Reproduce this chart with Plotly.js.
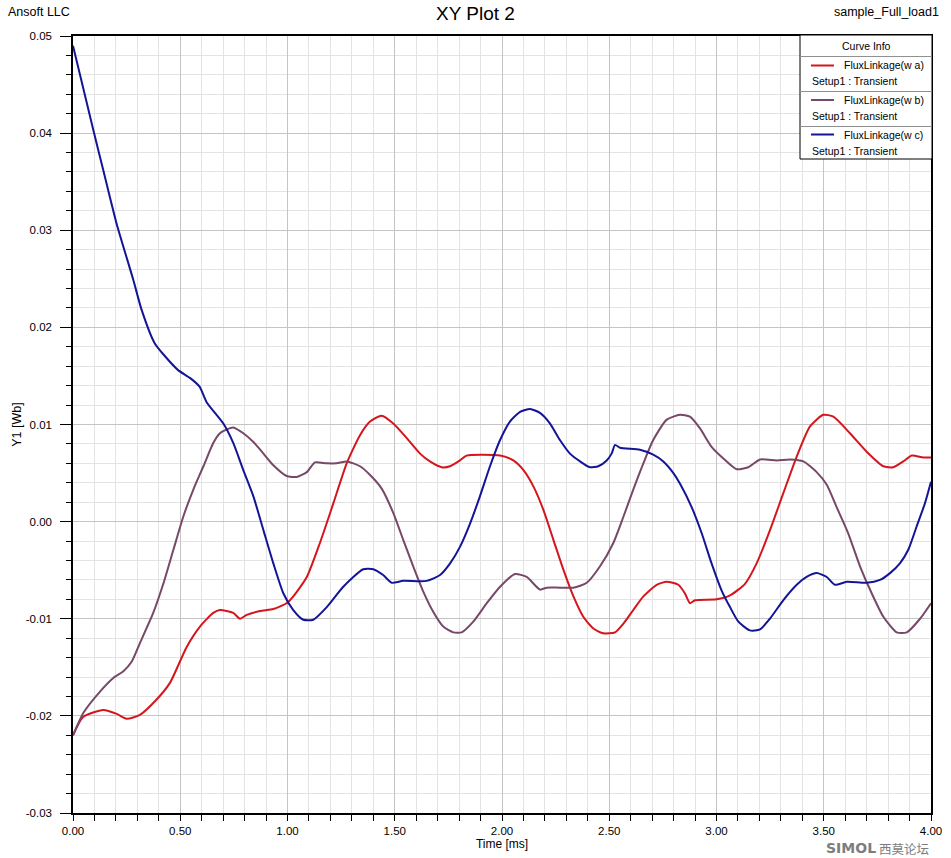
<!DOCTYPE html>
<html>
<head>
<meta charset="utf-8">
<script src="https://cdn.plot.ly/plotly-3.0.1.min.js"></script>
<style>html,body{margin:0;padding:0;background:#fff}#chart{width:951px;height:858px}</style>
</head>
<body>
<div id="chart"></div>
<script>
// ---- data (time in ms, flux linkage in Wb) ----
const timeWa = [0, 0.048, 0.141, 0.204, 0.250, 0.312, 0.382, 0.452, 0.530, 0.592, 0.654, 0.685, 0.747, 0.779, 0.810, 0.872, 0.934, 0.996, 1.027, 1.090, 1.151, 1.214, 1.276, 1.338, 1.385, 1.439, 1.493, 1.556, 1.618, 1.664, 1.719, 1.758, 1.804, 1.835, 1.991, 2.053, 2.100, 2.147, 2.193, 2.240, 2.287, 2.333, 2.379, 2.426, 2.472, 2.527, 2.566, 2.612, 2.659, 2.721, 2.768, 2.822, 2.853, 2.876, 2.900, 3.001, 3.063, 3.133, 3.187, 3.249, 3.311, 3.374, 3.436, 3.498, 3.545, 3.622, 3.700, 3.778, 3.824, 3.871, 3.910, 3.964, 4.0];
const fluxWa = [-0.0220, -0.0201, -0.0194, -0.0198, -0.0203, -0.0199, -0.0185, -0.0166, -0.0129, -0.0108, -0.0094, -0.0091, -0.0094, -0.0100, -0.0096, -0.0092, -0.0090, -0.0084, -0.0077, -0.0057, -0.0022, 0.0019, 0.0060, 0.0089, 0.0103, 0.0109, 0.0101, 0.0086, 0.0070, 0.0062, 0.0056, 0.0057, 0.0063, 0.0068, 0.0068, 0.0063, 0.0053, 0.0036, 0.0012, -0.0019, -0.0050, -0.0077, -0.0098, -0.0110, -0.0115, -0.0114, -0.0105, -0.0091, -0.0077, -0.0065, -0.0062, -0.0065, -0.0074, -0.0084, -0.0081, -0.0080, -0.0076, -0.0064, -0.0043, -0.0009, 0.0029, 0.0067, 0.0098, 0.0110, 0.0108, 0.0091, 0.0072, 0.0057, 0.0056, 0.0062, 0.0068, 0.0066, 0.0066];

const timeWb = [0, 0.048, 0.126, 0.188, 0.235, 0.274, 0.312, 0.374, 0.421, 0.468, 0.514, 0.561, 0.608, 0.654, 0.685, 0.717, 0.747, 0.794, 0.841, 0.888, 0.934, 0.996, 1.043, 1.090, 1.128, 1.183, 1.229, 1.276, 1.338, 1.385, 1.439, 1.493, 1.540, 1.586, 1.633, 1.680, 1.726, 1.773, 1.812, 1.866, 1.929, 1.991, 2.061, 2.115, 2.177, 2.208, 2.270, 2.333, 2.395, 2.457, 2.519, 2.566, 2.612, 2.659, 2.705, 2.768, 2.830, 2.876, 2.923, 2.977, 3.032, 3.094, 3.148, 3.203, 3.281, 3.343, 3.405, 3.467, 3.514, 3.560, 3.614, 3.669, 3.724, 3.778, 3.840, 3.887, 3.949, 4.0];
const fluxWb = [-0.0220, -0.0197, -0.0175, -0.0161, -0.0154, -0.0144, -0.0125, -0.0094, -0.0064, -0.0029, 0.0005, 0.0033, 0.0057, 0.0081, 0.0091, 0.0095, 0.0097, 0.0091, 0.0082, 0.0070, 0.0058, 0.0047, 0.0046, 0.0051, 0.0061, 0.0060, 0.0060, 0.0062, 0.0057, 0.0048, 0.0034, 0.0009, -0.0019, -0.0046, -0.0072, -0.0093, -0.0108, -0.0114, -0.0114, -0.0103, -0.0084, -0.0067, -0.0054, -0.0057, -0.0070, -0.0068, -0.0068, -0.0068, -0.0063, -0.0046, -0.0022, 0.0005, 0.0033, 0.0060, 0.0084, 0.0105, 0.0110, 0.0108, 0.0096, 0.0077, 0.0065, 0.0054, 0.0056, 0.0064, 0.0063, 0.0064, 0.0062, 0.0051, 0.0038, 0.0015, -0.0012, -0.0046, -0.0074, -0.0098, -0.0114, -0.0114, -0.0100, -0.0084];

const timeWc = [0, 0.095, 0.141, 0.203, 0.281, 0.320, 0.380, 0.430, 0.490, 0.545, 0.590, 0.623, 0.701, 0.747, 0.794, 0.841, 0.888, 0.934, 0.981, 1.027, 1.074, 1.120, 1.183, 1.260, 1.353, 1.400, 1.446, 1.486, 1.540, 1.649, 1.711, 1.758, 1.804, 1.851, 1.897, 1.944, 1.991, 2.037, 2.084, 2.131, 2.177, 2.224, 2.270, 2.317, 2.364, 2.410, 2.449, 2.488, 2.511, 2.527, 2.550, 2.643, 2.705, 2.752, 2.799, 2.830, 2.884, 2.931, 2.977, 3.024, 3.063, 3.102, 3.156, 3.203, 3.249, 3.311, 3.374, 3.420, 3.467, 3.514, 3.552, 3.607, 3.700, 3.762, 3.809, 3.855, 3.894, 3.933, 3.972, 4.0];
const fluxWc = [0.0490, 0.0403, 0.0362, 0.0307, 0.0249, 0.0218, 0.0184, 0.0170, 0.0156, 0.0148, 0.0139, 0.0123, 0.0101, 0.0081, 0.0053, 0.0026, -0.0009, -0.0043, -0.0074, -0.0091, -0.0101, -0.0101, -0.0088, -0.0067, -0.0049, -0.0049, -0.0055, -0.0063, -0.0061, -0.0061, -0.0055, -0.0043, -0.0026, -0.0002, 0.0026, 0.0057, 0.0084, 0.0103, 0.0113, 0.0116, 0.0112, 0.0101, 0.0084, 0.0070, 0.0062, 0.0056, 0.0057, 0.0063, 0.0070, 0.0079, 0.0076, 0.0074, 0.0069, 0.0062, 0.0050, 0.0039, 0.0015, -0.0012, -0.0043, -0.0071, -0.0088, -0.0103, -0.0112, -0.0111, -0.0100, -0.0081, -0.0065, -0.0057, -0.0053, -0.0057, -0.0065, -0.0062, -0.0063, -0.0060, -0.0053, -0.0043, -0.0029, -0.0005, 0.0019, 0.0041];

const seriesNames = ['FluxLinkage(w a)', 'FluxLinkage(w b)', 'FluxLinkage(w c)'];
const seriesSetup = ['Setup1 : Transient', 'Setup1 : Transient', 'Setup1 : Transient'];

const xTickVals = [0, 0.5, 1, 1.5, 2, 2.5, 3, 3.5, 4];
const xTickText = ['0.00', '0.50', '1.00', '1.50', '2.00', '2.50', '3.00', '3.50', '4.00'];
const yTickVals = [-0.03, -0.02, -0.01, 0, 0.01, 0.02, 0.03, 0.04, 0.05];
const yTickText = ['-0.03', '-0.02', '-0.01', '0.00', '0.01', '0.02', '0.03', '0.04', '0.05'];

// ---- styling ----
const colors = ['#d4161c', '#774868', '#141496'];
const FONT = 'Liberation Sans, Arial, sans-serif';
const W = 951, H = 858;
const M = {l: 73, r: 20, t: 36, b: 45};
const plotW = W - M.l - M.r, plotH = H - M.t - M.b;
const px = x => (x - M.l) / plotW;
const py = y => (H - M.b - y) / plotH;

const times = [timeWa, timeWb, timeWc];
const fluxes = [fluxWa, fluxWb, fluxWc];

const traces = fluxes.map((f, i) => ({
  type: 'scatter', mode: 'lines', x: times[i], y: f, name: seriesNames[i],
  line: {color: colors[i], width: 2, shape: 'spline', smoothing: 0.6},
  showlegend: false, hoverinfo: 'x+y+name'
}));

// custom "Curve Info" legend box
const box = {x0: 800, x1: 932, y0: 35, y1: 159};
const shapes = [
  {type: 'rect', xref: 'paper', yref: 'paper', x0: px(box.x0), x1: px(box.x1), y0: py(box.y1), y1: py(box.y0),
   fillcolor: '#ffffff', line: {color: '#000000', width: 1}, layer: 'above'}
];
[56.5, 91.5, 126.5].forEach(yy => shapes.push({type: 'line', xref: 'paper', yref: 'paper',
  x0: px(box.x0), x1: px(box.x1), y0: py(yy), y1: py(yy), line: {color: '#909090', width: 1}, layer: 'above'}));

const annotations = [
  {text: 'Ansoft LLC', xref: 'paper', yref: 'paper', x: px(6), y: py(12), xanchor: 'left', yanchor: 'middle', showarrow: false,
   font: {family: FONT, size: 12.5, color: '#000'}},
  {text: 'sample_Full_load1', xref: 'paper', yref: 'paper', x: px(941), y: py(12), xanchor: 'right', yanchor: 'middle', showarrow: false,
   font: {family: FONT, size: 12.5, color: '#000'}},
  {text: 'Curve Info', xref: 'paper', yref: 'paper', x: px((box.x0 + box.x1) / 2), y: py(46), xanchor: 'center', yanchor: 'middle', showarrow: false,
   font: {family: FONT, size: 10.5, color: '#000'}},
  {text: 'SIMOL', xref: 'paper', yref: 'paper', x: px(877), y: py(848), xanchor: 'right', yanchor: 'middle', showarrow: false,
   font: {family: 'DejaVu Sans, sans-serif', size: 14, color: '#7d7d7d', weight: 'bold'}, borderpad: 0},
  {text: '西莫论坛', xref: 'paper', yref: 'paper', x: px(878), y: py(848), xanchor: 'left', yanchor: 'middle', showarrow: false,
   font: {family: 'Noto Sans CJK SC, sans-serif', size: 12.5, color: '#7d7d7d'}, borderpad: 0}
];
seriesNames.forEach((nm, i) => {
  const yTop = 65.5 + i * 34.5;
  shapes.push({type: 'line', xref: 'paper', yref: 'paper', x0: px(811), x1: px(834), y0: py(yTop), y1: py(yTop),
    line: {color: colors[i], width: 2}, layer: 'above'});
  annotations.push({text: nm, xref: 'paper', yref: 'paper', x: px(842), y: py(yTop), xanchor: 'left', yanchor: 'middle', showarrow: false,
    font: {family: FONT, size: 10.5, color: '#000'}});
  annotations.push({text: seriesSetup[i], xref: 'paper', yref: 'paper', x: px(810), y: py(yTop + 16), xanchor: 'left', yanchor: 'middle', showarrow: false,
    font: {family: FONT, size: 10.5, color: '#000'}});
});

const axisCommon = {
  showline: true, linecolor: '#000', linewidth: 1.5, mirror: true, zeroline: false,
  ticks: 'outside', tickcolor: '#000', tickwidth: 1, tickmode: 'array',
  showgrid: true, gridcolor: '#c4c4c4', gridwidth: 1,
  tickfont: {family: FONT, size: 11.5, color: '#000'}
};

const layout = {
  width: W, height: H, margin: M, paper_bgcolor: '#fff', plot_bgcolor: '#fff',
  font: {family: FONT, color: '#000'},
  title: {text: 'XY Plot 2', x: 0.5, xref: 'container', xanchor: 'center', y: 1 - 13 / H, yref: 'container', yanchor: 'middle',
          font: {family: FONT, size: 19, color: '#000'}},
  xaxis: Object.assign({}, axisCommon, {
    range: [0, 4], tickvals: xTickVals, ticktext: xTickText, ticklen: 6,
    minor: {tickmode: 'linear', tick0: 0, dtick: 0.1, ticks: 'outside', ticklen: 6, tickcolor: '#000', showgrid: true, gridcolor: '#e3e3e3', gridwidth: 1},
    title: {text: 'Time [ms]', font: {family: FONT, size: 12, color: '#000'}, standoff: 2}
  }),
  yaxis: Object.assign({}, axisCommon, {
    range: [-0.03, 0.05], tickvals: yTickVals, ticktext: yTickText, ticklen: 11, ticklabelstandoff: 6,
    minor: {tickmode: 'linear', tick0: 0, dtick: 0.002, ticks: 'outside', ticklen: 5, tickcolor: '#000', showgrid: true, gridcolor: '#e3e3e3', gridwidth: 1},
    title: {text: 'Y1 [Wb]', font: {family: FONT, size: 12.5, color: '#000'}, standoff: 1}
  }),
  shapes: shapes,
  annotations: annotations
};

Plotly.newPlot('chart', traces, layout, {displayModeBar: false, responsive: false});
</script>
</body>
</html>
